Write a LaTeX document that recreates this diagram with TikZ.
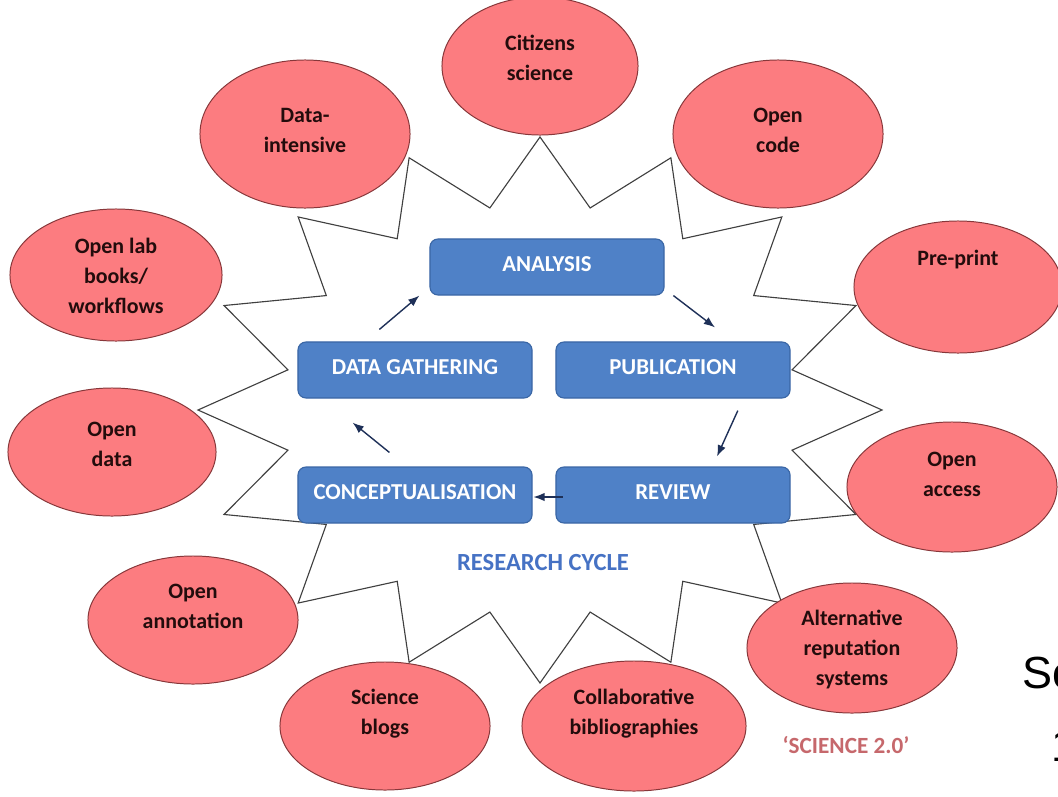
\documentclass[tikz,border=0pt]{standalone}
\usepackage{fontspec}
\setmainfont{Carlito}
\newfontfamily\slidefont{Liberation Sans}
\usetikzlibrary{
  shapes.geometric,
  arrows.meta,
  positioning,
  calc
}

\definecolor{ellfill}{RGB}{252,124,128}
\definecolor{ellline}{RGB}{135,55,58}
\definecolor{ellink}{RGB}{35,12,12}
\definecolor{boxfill}{RGB}{79,129,199}
\definecolor{boxline}{RGB}{58,102,165}
\definecolor{cyclecol}{RGB}{30,48,88}
\definecolor{starcol}{RGB}{64,64,64}
\definecolor{titleblue}{RGB}{70,114,196}
\definecolor{titlered}{RGB}{198,104,108}

\tikzset{
  idea/.style={ellipse, draw=ellline, fill=ellfill, line width=0.7pt, inner sep=0pt,
    minimum width=5.25cm, minimum height=3.25cm},
  words/.style={align=center, text=ellink, inner sep=0pt,
    font=\fontsize{15.6}{21.3}\selectfont\bfseries},
  stage/.style={rectangle, rounded corners=0.2cm, draw=boxline, fill=boxfill,
    line width=0.8pt, minimum width=5.85cm, minimum height=1.4cm, text depth=0.15cm,
    text=white, font=\fontsize{16.2}{19}\selectfont\bfseries},
  cyc/.style={-{Latex[length=8pt,width=6pt]}, draw=cyclecol, line width=1pt},
  starline/.style={draw=starcol, line width=0.8pt, line join=miter}
}

\begin{document}
\begin{tikzpicture}[x=0.025cm, y=-0.025cm]
    \useasboundingbox (0,0) rectangle (1058,796);

    % the 16 pointed star behind everything
    \begin{scope}[shift={(540,410)}]
      \draw[starline] (90:342 and 273)
        \foreach \k in {0,...,15} {
          -- ({90-22.5*\k-11.25}:257 and 206) -- ({90-22.5*(\k+1)}:342 and 273)
        } -- cycle;
    \end{scope}

    % open science practices
    \node[idea, minimum width=4.9cm, minimum height=3.45cm,
      label={[words, yshift=0.2cm]center:{Citizens\\science}}] (cit) at (540,66) {};
    \node[idea, minimum height=3.7cm,
      label={[words, yshift=0.1cm]center:{Data-\\intensive}}] (dat) at (305,134) {};
    \node[idea, minimum height=3.7cm,
      label={[words, yshift=0.1cm]center:{Open\\code}}] (code) at (778,134) {};
    \node[idea, minimum width=5.3cm, minimum height=3.3cm,
      label={[words, yshift=-0.03cm]center:{Open lab\\books/\\workflows}}] (lab) at (116,275) {};
    \node[idea, minimum width=5.2cm, minimum height=3.3cm,
      label={[words, yshift=0.68cm]center:{Pre-print}}] (pre) at (958,287) {};
    \node[idea, minimum width=5.2cm, minimum height=3.2cm,
      label={[words, yshift=0.2cm]center:{Open\\data}}] (odat) at (112,452) {};
    \node[idea,
      label={[words, yshift=0.32cm]center:{Open\\access}}] (acc) at (952,487) {};
    \node[idea, minimum height=3.2cm,
      label={[words, yshift=0.35cm]center:{Open\\annotation}}] (ann) at (193,620) {};
    \node[idea,
      label={[words, yshift=-0.03cm]center:{Alternative\\reputation\\systems}}] (alt) at (852,648) {};
    \node[idea, minimum height=3.2cm,
      label={[words, yshift=0.3cm]center:{Science\\blogs}}] (blog) at (385,726) {};
    \node[idea, minimum width=5.6cm,
      label={[words, yshift=0.3cm]center:{Collaborative\\bibliographies}}] (bib) at (634,726) {};

    % research cycle
    \node[stage] (an) at (547,267) {ANALYSIS};
    \node[stage] (dg) at (415,370) {DATA GATHERING};
    \node[stage] (pub) at (673,370) {PUBLICATION};
    \node[stage] (con) at (415,495) {CONCEPTUALISATION};
    \node[stage] (rev) at (673,495) {REVIEW};

    \draw[cyc] ([shift={(-0.64cm,0.35cm)}]con.north) -- ([shift={(-1.56cm,-0.6cm)}]dg.south);
    \draw[cyc] ([shift={(-0.89cm,0.3cm)}]dg.north) -- ([shift={(-0.25cm,0cm)}]an.south west);
    \draw[cyc] ([shift={(0.22cm,0cm)}]an.south east) -- ([shift={(1.05cm,0.35cm)}]pub.north);
    \draw[cyc] ([shift={(1.62cm,-0.3cm)}]pub.south) -- ([shift={(1.1cm,0.25cm)}]rev.north);
    \draw[cyc] ([shift={(0.18cm,-0.05cm)}]rev.west) -- ([shift={(0.02cm,-0.05cm)}]con.east);

    \node[text=titleblue, font=\fontsize{17.5}{20}\selectfont\bfseries] (rc) at (543,563) {RESEARCH CYCLE};
    \node[text=titlered, font=\fontsize{16.5}{19}\selectfont\bfseries] (s20) at (846,745) {‘SCIENCE 2.0’};

    % slide text cut by the edge
    \node[anchor=base west, inner sep=0pt, font=\slidefont\fontsize{32}{36}\selectfont] (sc) at (1022,688) {Sc};
    \node[anchor=base west, inner sep=0pt, font=\slidefont\fontsize{32}{36}\selectfont] (one) at (1051,761) {1};
\end{tikzpicture}
\end{document}
